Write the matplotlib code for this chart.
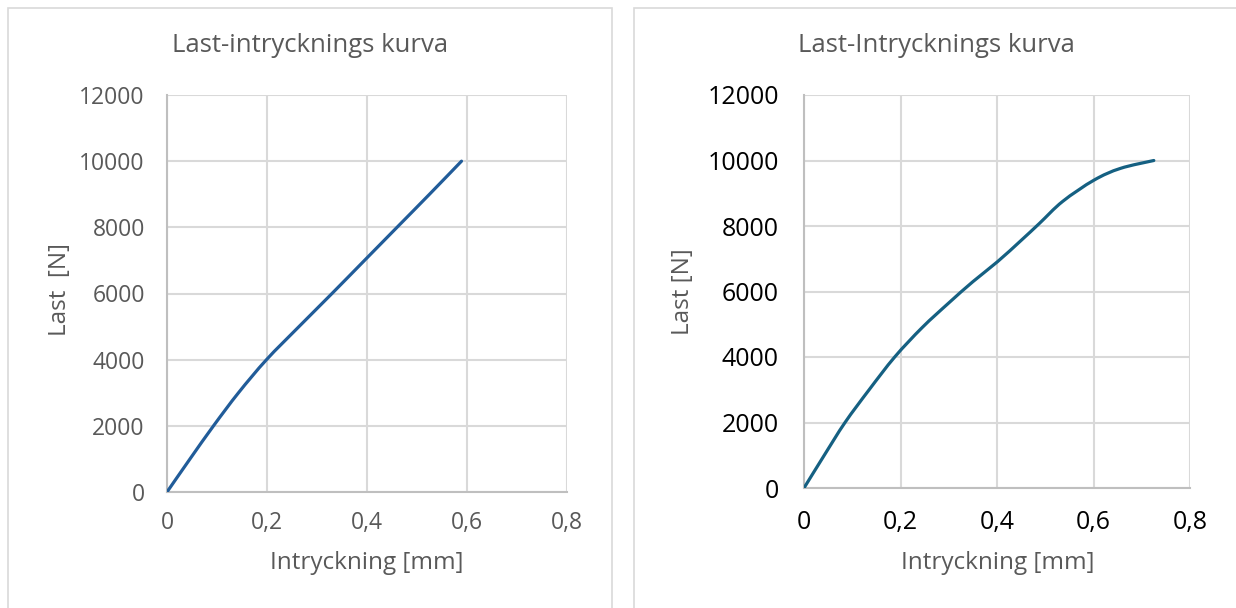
import matplotlib
matplotlib.use("Agg")
import matplotlib.pyplot as plt
from matplotlib.patches import Rectangle, PathPatch
from matplotlib.path import Path

plt.rcParams['font.family'] = ['Open Sans', 'DejaVu Sans']

# Left test: load vs. indentation
left_x = [0.0, 0.046, 0.093, 0.143, 0.199, 0.264, 0.330, 0.395, 0.460, 0.525, 0.589]
left_y = [0, 1000, 2000, 3000, 4000, 5000, 6000, 7000, 8000, 9000, 10000]

# Right test: load vs. indentation
right_x = [0.0, 0.042, 0.085, 0.135, 0.188, 0.245, 0.300, 0.350, 0.401,
           0.450, 0.488, 0.536, 0.601, 0.656, 0.725]
right_y = [0, 1000, 2000, 3000, 4000, 4900, 5650, 6300, 6910,
           7560, 8080, 8750, 9400, 9760, 10000]

x_ticks = [0, 0.2, 0.4, 0.6, 0.8]
x_tick_labels = ["0", "0,2", "0,4", "0,6", "0,8"]
y_ticks = [0, 2000, 4000, 6000, 8000, 10000, 12000]

W, H = 1236, 608
fig = plt.figure(figsize=(W / 100, H / 100), dpi=100)


def fx(px):
    return px / W


def fy(py):
    return 1 - py / H


# Chart-area frames
for x0, x1 in [(8, 612), (634, 1240)]:
    fig.patches.append(Rectangle((fx(x0), fy(620)), fx(x1 - x0), (620 - 8) / H,
                                 transform=fig.transFigure, fill=False,
                                 edgecolor="#d9d9d9", linewidth=1.2))

GRAY = "#595959"
GRID = "#d9d9d9"


def smooth_line(ax, xs, ys, color):
    """Draw a smoothed line through the points (cubic Bezier, Catmull-Rom style)."""
    pts = list(zip(xs, ys))
    n = len(pts)
    verts = [pts[0]]
    codes = [Path.MOVETO]
    for i in range(n - 1):
        p0 = pts[i - 1] if i > 0 else pts[i]
        p1 = pts[i]
        p2 = pts[i + 1]
        p3 = pts[i + 2] if i + 2 < n else pts[i + 1]
        c1 = (p1[0] + (p2[0] - p0[0]) / 6, p1[1] + (p2[1] - p0[1]) / 6)
        c2 = (p2[0] - (p3[0] - p1[0]) / 6, p2[1] - (p3[1] - p1[1]) / 6)
        verts += [c1, c2, p2]
        codes += [Path.CURVE4] * 3
    patch = PathPatch(Path(verts, codes), facecolor="none", edgecolor=color,
                      linewidth=2.3, capstyle="round", joinstyle="round",
                      transform=ax.transData, zorder=3)
    ax.add_patch(patch)


def setup(ax, tick_color, tick_size, ypad, xpad):
    ax.set_xlim(0, 0.8)
    ax.set_ylim(0, 12000)
    ax.set_xticks(x_ticks)
    ax.set_xticklabels(x_tick_labels)
    ax.set_yticks(y_ticks)
    ax.set_yticklabels([str(v) for v in y_ticks])
    ax.grid(True, color=GRID, linewidth=1.5)
    ax.set_axisbelow(True)
    for side in ["top", "right"]:
        ax.spines[side].set_visible(False)
    for side in ["bottom", "left"]:
        ax.spines[side].set_color("#bfbfbf")
        ax.spines[side].set_linewidth(1.5)
    ax.tick_params(length=0, labelsize=tick_size, labelcolor=tick_color)
    ax.tick_params(axis="y", pad=ypad)
    ax.tick_params(axis="x", pad=xpad)


# Left chart
axL = fig.add_axes([fx(167), fy(492), fx(567 - 167), (492 - 95) / H])
setup(axL, GRAY, 16.5, 16, 14)
smooth_line(axL, left_x, left_y, "#215c99")
axL.set_xlabel("Intryckning [mm]", fontsize=17.5, color=GRAY, va="center")
axL.xaxis.set_label_coords(0.5, -0.179)
axL.set_ylabel("Last  [N]", fontsize=17.5, color=GRAY, va="center", ha="center")
axL.yaxis.set_label_coords(-0.2675, 0.509)
fig.text(fx(310), fy(45), "Last-intrycknings kurva", fontsize=18.5, color=GRAY,
         ha="center", va="center")

# Right chart
axR = fig.add_axes([fx(804), fy(488), fx(1190 - 804), (488 - 95) / H])
setup(axR, "black", 18, 18, 15.5)
smooth_line(axR, right_x, right_y, "#156082")
axR.set_xlabel("Intryckning [mm]", fontsize=17.5, color=GRAY, va="center")
axR.xaxis.set_label_coords(0.501, -0.191)
axR.set_ylabel("Last [N]", fontsize=17.5, color=GRAY, va="center", ha="center")
axR.yaxis.set_label_coords(-0.3135, 0.499)
fig.text(fx(936), fy(45), "Last-Intrycknings kurva", fontsize=18.5, color=GRAY,
         ha="center", va="center")

fig.savefig("out.png", dpi=100, facecolor="white")
